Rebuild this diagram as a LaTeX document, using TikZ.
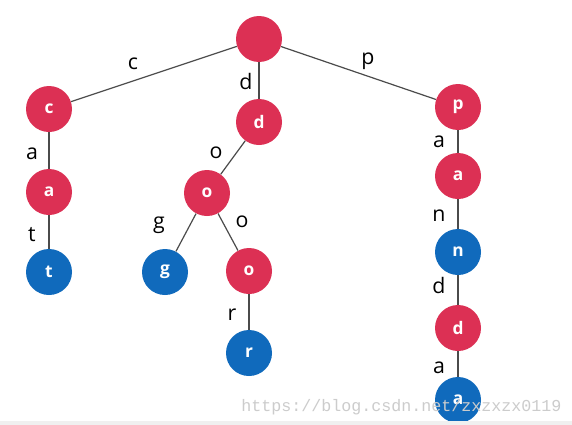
\documentclass[tikz,border=0pt]{standalone}
\usepackage{fontspec}
\setmainfont{Open Sans}
\setmonofont{Liberation Mono}
\definecolor{trieRed}{RGB}{220,48,84}
\definecolor{trieBlue}{RGB}{16,106,188}
\definecolor{edgeGray}{RGB}{75,75,75}
\tikzset{
	inner/.style = {circle, fill = trieRed, minimum size = 34.5pt, inner sep = 0pt, text = white, font = \bfseries\fontsize{13}{15}\selectfont},
	leaf/.style = {inner, fill = trieBlue},
	edge/.style = {edgeGray, line width = 0.9pt},
	lbl/.style = {anchor = base, inner sep = 0pt, font = \fontsize{16}{18}\selectfont}
}
\begin{document}
\begin{tikzpicture} [x = 0.75pt, y = -0.75pt]
	\useasboundingbox (0,0) rectangle (572,425);
	\fill [white] (0,0) rectangle (572,425);
	% the trie
	\node [inner] (root) at (259,39) {};
	\node [inner] (c) at (49,109) {c};
	\node [inner] (ca) at (49,192) {a};
	\node [leaf] (cat) at (49,272) {t};
	\node [inner] (d) at (259,122) {d};
	\node [inner] (do) at (207,193) {o};
	\node [leaf] (dog) at (165,272) {g};
	\node [inner] (doo) at (249,271) {o};
	\node [leaf] (door) at (249,353) {r};
	\node [inner] (p) at (458,107) {p};
	\node [inner] (pa) at (458,176) {a};
	\node [leaf] (pan) at (458,252) {n};
	\node [inner] (pand) at (458,328) {d};
	\node [leaf] (panda) at (458,400) {a};
	% edges
	\draw [edge] (root) -- (c);
	\draw [edge] (root) -- (d);
	\draw [edge] (root) -- (p);
	\draw [edge] (c) -- (ca);
	\draw [edge] (ca) -- (cat);
	\draw [edge] (d) -- (do);
	\draw [edge] (do) -- (dog);
	\draw [edge] (do) -- (doo);
	\draw [edge] (doo) -- (door);
	\draw [edge] (p) -- (pa);
	\draw [edge] (pa) -- (pan);
	\draw [edge] (pan) -- (pand);
	\draw [edge] (pand) -- (panda);
	% letters on the edges
	\node [lbl] (lc) at (133,69) {c};
	\node [lbl] (ld) at (246,89) {d};
	\node [lbl] (lp) at (368,64) {p};
	\node [lbl] (lca) at (32,159) {a};
	\node [lbl] (lcat) at (32,241) {t};
	\node [lbl] (ldo) at (216,158) {o};
	\node [lbl] (ldog) at (159,228) {g};
	\node [lbl] (ldoo) at (242,227) {o};
	\node [lbl] (ldoor) at (232,320) {r};
	\node [lbl] (lpa) at (439,147) {a};
	\node [lbl] (lpan) at (439,221) {n};
	\node [lbl] (lpand) at (439,293) {d};
	\node [lbl] (lpanda) at (439,373) {a};
	%\draw [gray] (0,0) rectangle (572,425);
	\node [anchor = base west, inner sep = 0pt, text = black!20, font = \ttfamily\fontsize{12.5}{14}\selectfont] (mark) at (241,411) {https://blog.csdn.net/zxzxzx0119};
	\fill [black!6] (0,421) rectangle (572,425);
\end{tikzpicture}
\end{document}
